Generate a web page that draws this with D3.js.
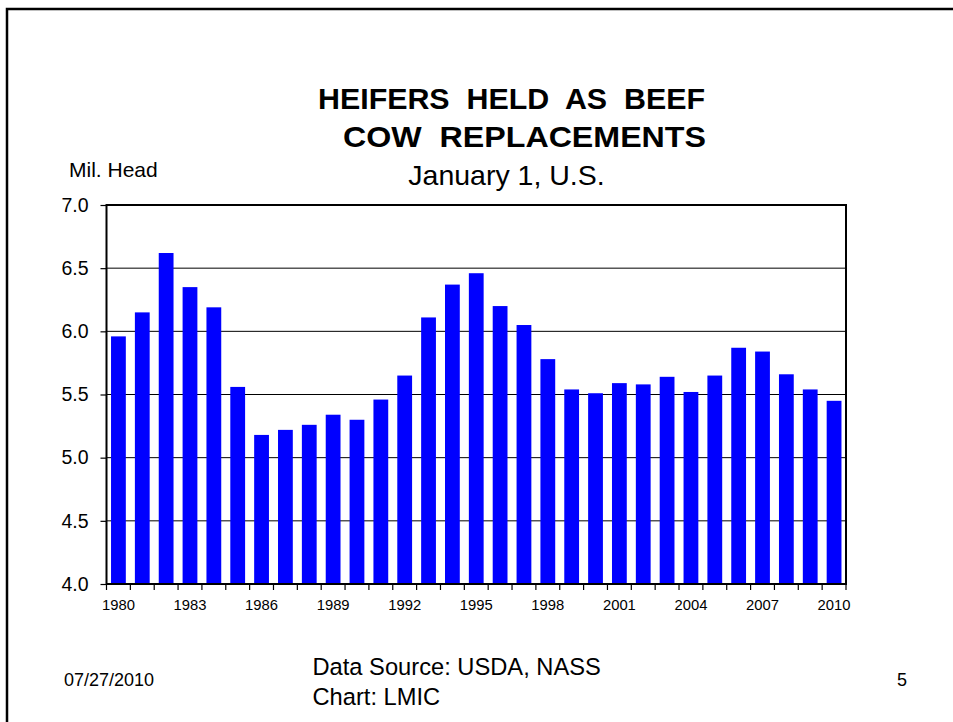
<!DOCTYPE html>
<html>
<head>
<meta charset="utf-8">
<script src="https://cdn.jsdelivr.net/npm/d3@7"></script>
<style>
  body { margin: 0; background: #fff; }
  svg { display: block; font-family: Arial, "Liberation Sans", sans-serif; }
  .domain { display: none; }
</style>
</head>
<body>
<svg width="953" height="722"></svg>
<script>
// heifers held as beef cow replacements, Jan 1, mil. head
const years = d3.range(1980, 2011);
const heifers = [5.96, 6.15, 6.62, 6.35, 6.19, 5.56, 5.18, 5.22, 5.26, 5.34,
                 5.30, 5.46, 5.65, 6.11, 6.37, 6.46, 6.20, 6.05, 5.78, 5.54,
                 5.51, 5.59, 5.58, 5.64, 5.52, 5.65, 5.87, 5.84, 5.66, 5.54,
                 5.45];
const yTicks = [4.0, 4.5, 5.0, 5.5, 6.0, 6.5, 7.0];
const yearLabels = [1980, 1983, 1986, 1989, 1992, 1995, 1998, 2001, 2004, 2007, 2010];

const data = years.map((yr, i) => ({ year: yr, value: heifers[i] }));

const svg = d3.select("svg");

// plot area
const plotL = 106.5, plotR = 846, plotT = 205, plotB = 584;

const x = d3.scaleBand()
    .domain(years)
    .range([plotL, plotR])
    .paddingInner(0.38)
    .paddingOuter(0.19);

const y = d3.scaleLinear().domain([4, 7]).range([plotB, plotT]);

// slide frame
svg.append("path")
    .attr("d", "M7,730V9H960")
    .attr("fill", "none")
    .attr("stroke", "#000")
    .attr("stroke-width", 2.5);

// gridlines
svg.append("g")
    .selectAll("line")
    .data(yTicks.slice(1, -1))
    .enter()
    .append("line")
    .attr("x1", plotL)
    .attr("x2", plotR)
    .attr("y1", d => y(d))
    .attr("y2", d => y(d))
    .attr("stroke", "#000")
    .attr("stroke-width", 1);

// bars
svg.append("g")
    .selectAll("rect")
    .data(data)
    .enter()
    .append("rect")
    .attr("x", d => x(d.year))
    .attr("y", d => y(d.value))
    .attr("width", x.bandwidth())
    .attr("height", d => y(4) - y(d.value))
    .attr("fill", "#0000ff");

// plot frame
svg.append("rect")
    .attr("x", plotL)
    .attr("y", plotT)
    .attr("width", plotR - plotL)
    .attr("height", plotB - plotT)
    .attr("fill", "none")
    .attr("stroke", "#000")
    .attr("stroke-width", 2);

// y axis
const yAxis = svg.append("g")
    .attr("transform", "translate(" + plotL + ",0)")
    .call(d3.axisLeft(y).tickValues(yTicks).tickFormat(d3.format(".1f")).tickSize(6).tickPadding(12));
yAxis.selectAll("line").attr("stroke", "#000").attr("stroke-width", 1.2);
yAxis.selectAll("text")
    .attr("font-size", 19.5)
    .attr("font-family", "Arial, 'Liberation Sans', sans-serif")
    .attr("fill", "#000");

// x tick marks on the slot boundaries
const gap = (x.step() - x.bandwidth()) / 2;
const bounds = years.map(yr => x(yr) - gap).concat([plotR]);
svg.append("g")
    .selectAll("line")
    .data(bounds)
    .enter()
    .append("line")
    .attr("x1", d => d)
    .attr("x2", d => d)
    .attr("y1", plotB)
    .attr("y2", plotB + 6)
    .attr("stroke", "#000")
    .attr("stroke-width", 1.2);

// x labels every 3 years
const xAxis = svg.append("g")
    .attr("transform", "translate(0," + plotB + ")")
    .call(d3.axisBottom(x).tickValues(yearLabels).tickSize(0).tickPadding(15));
xAxis.selectAll("text")
    .attr("font-size", 14.8)
    .attr("font-family", "Arial, 'Liberation Sans', sans-serif")
    .attr("fill", "#000");

// titles
function label(txt, px, py, size, opts) {
    opts = opts || {};
    const t = svg.append("text")
        .attr("x", px)
        .attr("y", py)
        .attr("font-size", size)
        .attr("font-weight", opts.bold ? "bold" : "normal")
        .attr("text-anchor", opts.anchor || "start")
        .attr("xml:space", "preserve")
        .style("white-space", "pre")
        .text(txt);
    if (opts.len) t.attr("textLength", opts.len).attr("lengthAdjust", "spacingAndGlyphs");
}

label("HEIFERS  HELD  AS  BEEF", 318, 108.5, 30, { bold: true, len: 387 });
label("COW  REPLACEMENTS", 343, 146.5, 30, { bold: true, len: 363 });
label("January 1, U.S.", 506.5, 185, 28.5, { anchor: "middle" });
label("Mil. Head", 69, 177, 21);

// footer
label("07/27/2010", 64, 686, 18);
label("Data Source: USDA, NASS", 312.5, 675, 23.7);
label("Chart: LMIC", 312.5, 705, 23.7);
label("5", 897, 686, 18);
</script>
</body>
</html>
